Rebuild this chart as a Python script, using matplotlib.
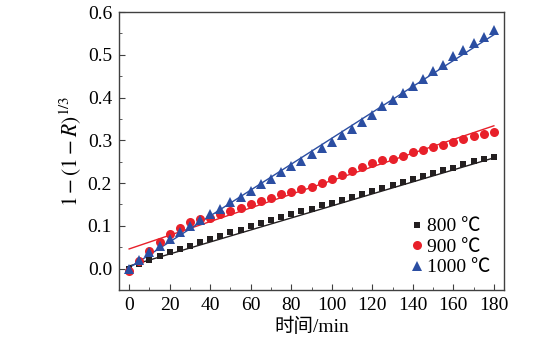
import matplotlib
matplotlib.use('Agg')
import matplotlib.pyplot as plt
import numpy as np
from matplotlib.ticker import MultipleLocator

plt.rcParams['font.family'] = ['Liberation Serif', 'Noto Sans CJK SC']
plt.rcParams['mathtext.fontset'] = 'stix'

# time in minutes
t = list(range(0, 181, 5))

y_800 = [0.0, 0.01, 0.02, 0.03, 0.038, 0.046, 0.054, 0.063, 0.07, 0.077, 0.085, 0.091,
         0.099, 0.106, 0.114, 0.121, 0.128, 0.135, 0.139, 0.148, 0.153, 0.16, 0.167,
         0.174, 0.182, 0.189, 0.196, 0.203, 0.209, 0.217, 0.224, 0.23, 0.236, 0.244,
         0.251, 0.256, 0.261]
y_900 = [-0.006, 0.018, 0.042, 0.063, 0.08, 0.096, 0.109, 0.115, 0.119, 0.127, 0.134,
         0.142, 0.150, 0.158, 0.165, 0.174, 0.18, 0.187, 0.192, 0.201, 0.209, 0.218,
         0.228, 0.238, 0.246, 0.253, 0.257, 0.264, 0.272, 0.277, 0.285, 0.289, 0.296,
         0.303, 0.309, 0.315, 0.32]
y_1000 = [0.0, 0.02, 0.038, 0.054, 0.07, 0.085, 0.1, 0.113, 0.127, 0.14, 0.155, 0.168,
          0.182, 0.197, 0.21, 0.225, 0.239, 0.252, 0.268, 0.281, 0.296, 0.312, 0.326,
          0.342, 0.36, 0.38, 0.394, 0.411, 0.428, 0.444, 0.461, 0.477, 0.497, 0.512,
          0.528, 0.541, 0.557]

# fitted lines: value at t=0 and t=180
fit_t = [0, 180]
fit_800 = [0.006, 0.259]
fit_900 = [0.046, 0.334]
fit_1000 = [0.002, 0.547]

c_black = '#231f20'
c_red = '#e8202a'
c_blue = '#2b4ea2'

fig = plt.figure(figsize=(5.6, 3.44), dpi=100)
ax = fig.add_axes([0.2125, 0.157, 0.6875, 0.808])

ax.plot(fit_t, fit_800, color=c_black, lw=1.0)
ax.plot(fit_t, fit_900, color=c_red, lw=1.0)
ax.plot(fit_t, fit_1000, color=c_blue, lw=1.0)

ax.plot(t, y_800, 's', color=c_black, ms=5, mew=0, label='800 ℃')
ax.plot(t, y_900, 'o', color=c_red, ms=6.5, mew=0, label='900 ℃')
ax.plot(t, y_1000, '^', color=c_blue, ms=7, mew=0, label='1000 ℃')

ax.set_xlim(-5, 185)
ax.set_ylim(-0.05, 0.6)
ax.xaxis.set_major_locator(MultipleLocator(20))
ax.xaxis.set_minor_locator(MultipleLocator(10))
ax.yaxis.set_major_locator(MultipleLocator(0.1))
ax.yaxis.set_minor_locator(MultipleLocator(0.05))
ax.yaxis.set_major_formatter(matplotlib.ticker.FormatStrFormatter('%.1f'))

ax.tick_params(which='both', direction='in', top=False, right=False,
               labelsize=14, color='#404040')
ax.tick_params(which='major', length=4, pad=5)
ax.tick_params(which='minor', length=2.5)
for spine in ax.spines.values():
    spine.set_color('#404040')
    spine.set_linewidth(1)

ax.set_xlabel('时间/min', fontsize=14, labelpad=3)
ax.set_ylabel(r'$1-(1-\mathit{R})^{1/3}$', fontsize=15.5, labelpad=3)

ax.legend(loc='lower right', frameon=False, fontsize=14, handlelength=0.6,
          handletextpad=0.2, labelspacing=0.15, borderaxespad=0.3)

fig.savefig('out.png', dpi=100)
